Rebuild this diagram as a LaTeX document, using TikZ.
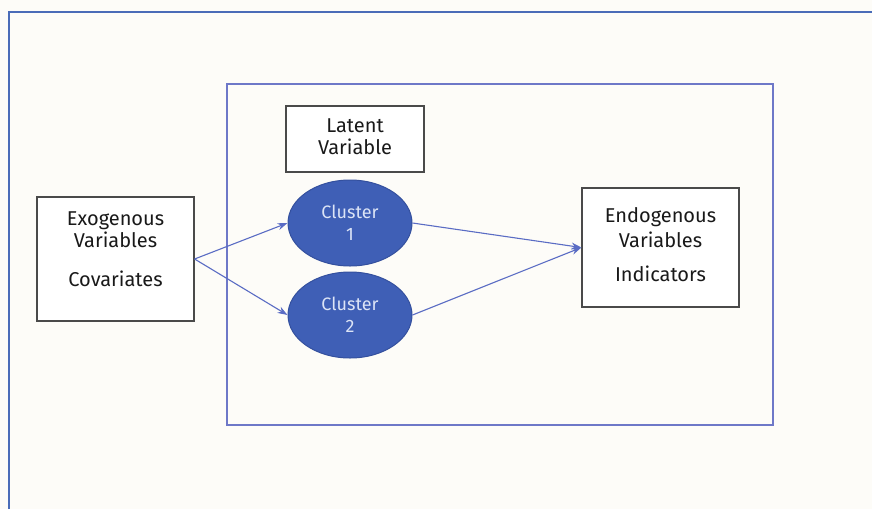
\documentclass[tikz,border=0pt]{standalone}
\usepackage{fontspec}
\setmainfont{Fira Sans}
\usetikzlibrary{arrows.meta,shapes.geometric}
\definecolor{frameblue}{HTML}{4A6CB8}
\definecolor{innerblue}{HTML}{6E78C8}
\definecolor{arrowblue}{HTML}{5A6CC4}
\definecolor{clusterfill}{HTML}{3F5FB6}
\definecolor{clusterdraw}{HTML}{34509E}
\definecolor{clustertext}{HTML}{DCE4F6}
\definecolor{boxgray}{HTML}{4A4A4A}
\definecolor{bg}{HTML}{FDFCF8}
\tikzset{
  varbox/.style={draw=boxgray, line width=1.2pt, fill=white, inner sep=0pt},
  vartext/.style={align=center, font=\fontsize{20}{22}\selectfont, text=black!90, inner sep=0pt},
  cluster/.style={ellipse, draw=clusterdraw, line width=1pt, fill=clusterfill,
    minimum width=124pt, minimum height=86pt, align=center, inner sep=0pt,
    text=clustertext, font=\fontsize{18}{22}\selectfont},
  link/.style={draw=arrowblue, line width=1.1pt, -{Stealth[length=10pt,width=7pt]}}
}
\begin{document}
\begin{tikzpicture}[x=1pt,y=-1pt]
\useasboundingbox (0,0) rectangle (872,509);
\fill[bg] (0,0) rectangle (872,509);
% outer frame (only top and left visible)
\draw[frameblue, line width=1.6pt] (9,509) -- (9,12) -- (872,12);
% inner box
\draw[innerblue, line width=1.4pt] (227,84) rectangle (773,425);
% boxes
\node[varbox, minimum width=157pt, minimum height=124pt] (exo) at (115.5,259) {};
\node[vartext] (exotext) at (115.5,249) {Exogenous\\Variables\\[17pt]Covariates};
\node[varbox, minimum width=157pt, minimum height=119pt] (endo) at (660.5,247.5) {};
\node[vartext] (endotext) at (660.5,245) {Endogenous\\[3pt]Variables\\[12pt]Indicators};
\node[varbox, minimum width=138pt, minimum height=66pt] (latent) at (355,139) {};
\node[vartext] (latenttext) at (355,137) {Latent\\Variable};
% clusters
\node[cluster] (c1) at (350,223) {Cluster\\1};
\node[cluster] (c2) at (350,315) {Cluster\\2};
% connectors
\draw[link] (exo.east) -- (c1.west);
\draw[link] (exo.east) -- (c2.west);
\draw[link] (c1.east) -- (endo.west);
\draw[link] (c2.east) -- (endo.west);
\end{tikzpicture}
\end{document}
